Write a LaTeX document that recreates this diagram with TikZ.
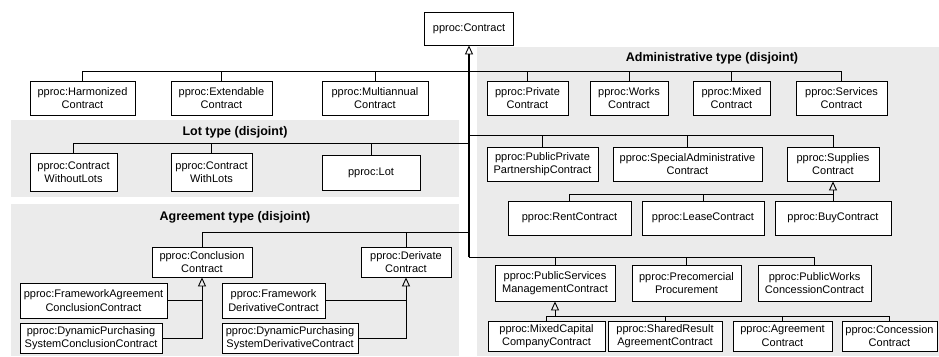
\documentclass[tikz,border=0pt]{standalone}
\usepackage{fontspec}
\setmainfont{Liberation Sans}
\usetikzlibrary{arrows.meta}
\definecolor{grp}{RGB}{235,235,235}
\tikzset{
  cls/.style={draw, line width=0.8pt, fill=white, inner sep=1pt, align=center, font=\fontsize{11}{13.5}\selectfont},
  ttl/.style={font=\bfseries\fontsize{12.5}{14}\selectfont, inner sep=0pt},
  gen/.style={-{Triangle[open, length=9pt, width=8pt, line width=0.9pt]}},
  ln/.style={line width=0.8pt},
  trunk/.style={line width=1.6pt},
}
\newcommand\cbox[6]{\node[cls, minimum width={(#4-#2)*1pt}, minimum height={(#5-#3)*1pt}] (#1) at ({(#2+#4)/2},{(#3+#5)/2}) {#6};}
\begin{document}
\begin{tikzpicture}[x=1pt,y=-1pt]
\useasboundingbox (0,0) rectangle (939,356);
% group backgrounds
\fill[grp] (477,47) rectangle (939,356);
\fill[grp] (11,120) rectangle (459,197);
\fill[grp] (11,204) rectangle (459,356);
\node[ttl] (tadm) at (712,58) {Administrative type (disjoint)};
\node[ttl] (tlot) at (235,132) {Lot type (disjoint)};
\node[ttl] (tagr) at (235,217) {Agreement type (disjoint)};
% classes
\cbox{contract}{424.5}{12}{513.5}{45}{pproc:Contract}
\cbox{harm}{30}{81}{135}{115}{pproc:Harmonized\\Contract}
\cbox{ext}{171}{81}{272}{115}{pproc:Extendable\\Contract}
\cbox{multi}{322}{81}{428}{115}{pproc:Multiannual\\Contract}
\cbox{priv}{487}{81}{568}{115}{pproc:Private\\Contract}
\cbox{works}{590}{81}{668}{115}{pproc:Works\\Contract}
\cbox{mixed}{693}{81}{770}{115}{pproc:Mixed\\Contract}
\cbox{serv}{796}{81}{887}{115}{pproc:Services\\Contract}
\cbox{wol}{30}{153}{117}{191}{pproc:Contract\\WithoutLots}
\cbox{wl}{171}{153}{252}{191}{pproc:Contract\\WithLots}
\cbox{lot}{322}{155}{420}{190}{pproc:Lot}
\cbox{ppp}{487}{147}{598}{181}{pproc:PublicPrivate\\PartnershipContract}
\cbox{spec}{613}{147}{762}{181}{pproc:SpecialAdministrative\\Contract}
\cbox{sup}{787}{147}{879}{181}{pproc:Supplies\\Contract}
\cbox{rent}{508}{201}{631}{235}{pproc:RentContract}
\cbox{lease}{642}{201}{764}{235}{pproc:LeaseContract}
\cbox{buy}{775}{201}{891}{235}{pproc:BuyContract}
\cbox{conc}{152}{247}{252}{277}{pproc:Conclusion\\Contract}
\cbox{derv}{361}{247}{451}{277}{pproc:Derivate\\Contract}
\cbox{fac}{20}{283}{167}{318}{pproc:FrameworkAgreement\\ConclusionContract}
\cbox{dsc}{20}{323}{162}{353}{pproc:DynamicPurchasing\\SystemConclusionContract}
\cbox{fdc}{222}{283}{325}{318}{pproc:Framework\\DerivativeContract}
\cbox{dsd}{222}{323}{358}{353}{pproc:DynamicPurchasing\\SystemDerivativeContract}
\cbox{psm}{495}{265}{615}{301}{pproc:PublicServices\\ManagementContract}
\cbox{prec}{632}{265}{741}{301}{pproc:Precomercial\\Procurement}
\cbox{pwc}{758}{265}{871}{301}{pproc:PublicWorks\\ConcessionContract}
\cbox{mcc}{488}{321}{605}{351}{pproc:MixedCapital\\CompanyContract}
\cbox{shr}{608}{321}{722}{351}{pproc:SharedResult\\AgreementContract}
\cbox{agr}{733}{321}{832}{351}{pproc:Agreement\\Contract}
\cbox{cons}{842}{321}{937}{351}{pproc:Concession\\Contract}
% trunk
\coordinate (tA) at (469,71);
\coordinate (tB) at (469,135);
\coordinate (tC) at (469,143);
\coordinate (tD) at (469,232);
\coordinate (tE) at (469,257);
\draw[trunk] (tE) -- (tA);
\draw[trunk,gen] (tA) -- (contract.south);
\foreach \n in {harm,ext,multi,priv,works,mixed,serv} \draw[ln] (\n.north) |- (tA);
\foreach \n in {wol,wl,lot} \draw[ln] (\n.north) |- (tC);
\foreach \n in {ppp,spec,sup} \draw[ln] (\n.north) |- (tB);
\foreach \n in {conc,derv} \draw[ln] (\n.north) |- (tD);
\foreach \n in {psm,prec,pwc} \draw[ln] (\n.north) |- (tE);
% supplies
\coordinate (sj) at (833,194);
\draw[ln,gen] (sj) -- (sup.south);
\foreach \n in {rent,lease,buy} \draw[ln] (\n.north) |- (sj);
% public services
\coordinate (pj) at (555,316);
\draw[ln,gen] (pj) -- (psm.south);
\foreach \n in {mcc,shr,agr,cons} \draw[ln] (\n.north) |- (pj);
% agreement
\draw[ln,gen] (dsc.east) -| (conc.south);
\draw[ln] (fac.east) -- (fac.east -| conc.south);
\draw[ln,gen] (dsd.east) -| (derv.south);
\draw[ln] (fdc.east) -- (fdc.east -| derv.south);
\end{tikzpicture}
\end{document}
